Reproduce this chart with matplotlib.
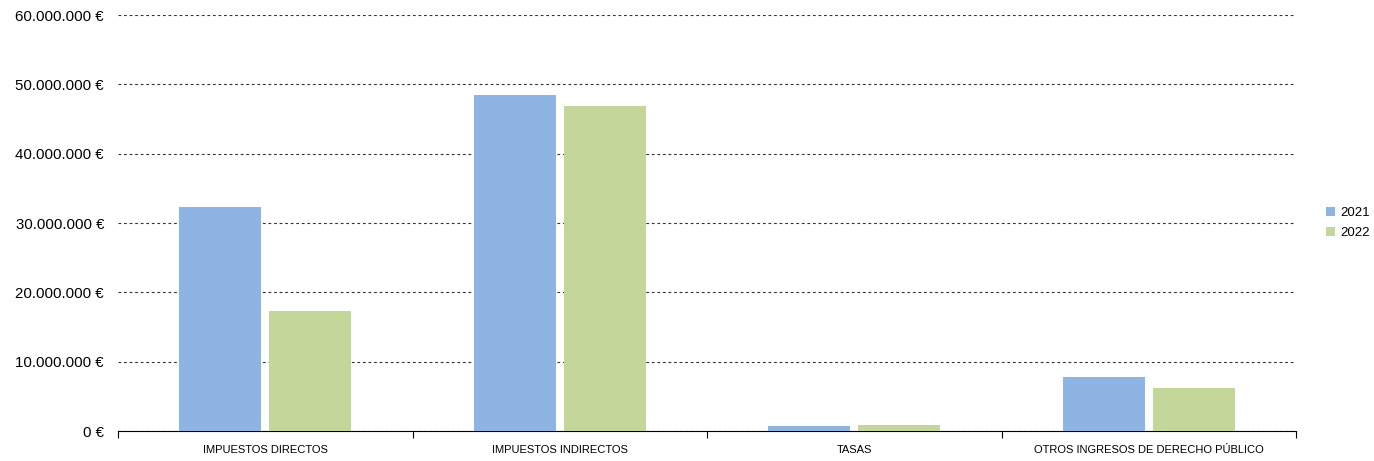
import matplotlib
matplotlib.use("Agg")
import matplotlib.pyplot as plt
import numpy as np
from matplotlib.ticker import FuncFormatter, FixedLocator

categories = ["IMPUESTOS DIRECTOS", "IMPUESTOS INDIRECTOS", "TASAS", "OTROS INGRESOS DE DERECHO PÚBLICO"]
series_names = ["2021", "2022"]
values_2021 = [32300000, 48450000, 720000, 7830000]
values_2022 = [17300000, 46900000, 870000, 6200000]
colors = ["#8EB4E3", "#C4D79B"]

plt.rcParams['font.family'] = ['Liberation Sans', 'DejaVu Sans']

fig = plt.figure(figsize=(13.74, 4.61), dpi=100)
ax = fig.add_axes([118/1374, 1 - 431/461, (1296-118)/1374, (431-15)/461])

x = np.arange(len(categories))
w = 0.278
off = 0.153
ax.bar(x - off, values_2021, w, color=colors[0], label=series_names[0], zorder=3)
ax.bar(x + off, values_2022, w, color=colors[1], label=series_names[1], zorder=3)

ax.set_xlim(-0.5, len(categories) - 0.5)
ax.set_ylim(0, 60000000)
ax.set_yticks(np.arange(0, 60000001, 10000000))
ax.yaxis.set_major_formatter(FuncFormatter(lambda v, p: f"{int(v):,}".replace(",", ".") + " €"))
ax.tick_params(axis='y', length=0, labelsize=10.8, pad=10, colors='#000000')
ax.yaxis.grid(True, linestyle=(0, (2.5, 2.5)), color='#333333', linewidth=0.8, zorder=0)
ax.set_axisbelow(True)

ax.set_xticks(x)
ax.set_xticklabels(categories, fontsize=8)
ax.tick_params(axis='x', length=0, pad=10)
ax.xaxis.set_minor_locator(FixedLocator(np.arange(-0.5, len(categories), 1.0)))
ax.tick_params(axis='x', which='minor', length=5, width=0.8, color='black', direction='out')

for s in ['top', 'right', 'left']:
    ax.spines[s].set_visible(False)
ax.spines['bottom'].set_color('black')
ax.spines['bottom'].set_linewidth(0.8)

leg = fig.legend(loc='center left', bbox_to_anchor=(1319/1374, 1 - 223/461), frameon=False,
                 fontsize=9.5, handlelength=0.7, handleheight=0.7, handletextpad=0.45,
                 labelspacing=0.55, borderpad=0)

fig.savefig("out.png", dpi=100)
